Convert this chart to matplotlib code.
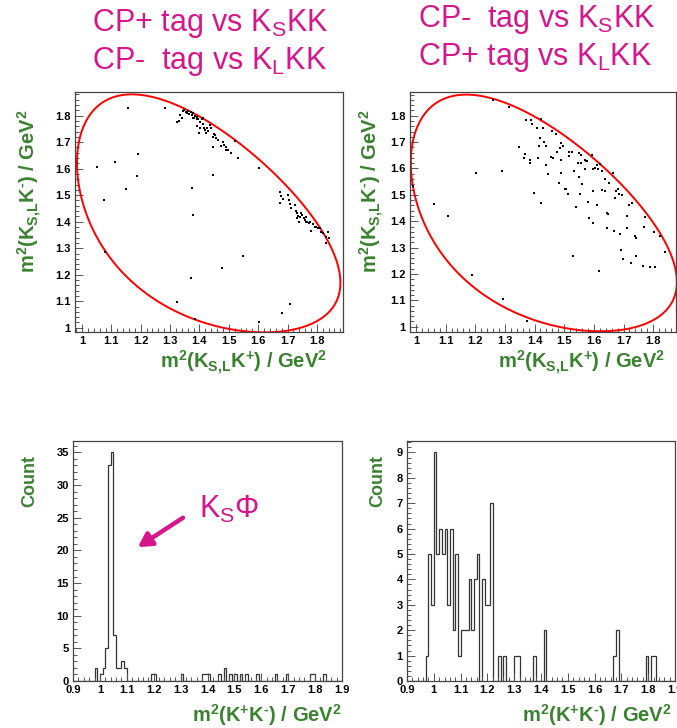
import numpy as np
import matplotlib
matplotlib.use("Agg")
import matplotlib.pyplot as plt
from matplotlib.ticker import MultipleLocator, FormatStrFormatter

plt.rcParams['font.family'] = ['Liberation Sans', 'DejaVu Sans']
plt.rcParams['mathtext.fontset'] = 'custom'
plt.rcParams['mathtext.rm'] = 'Liberation Sans'
plt.rcParams['mathtext.bf'] = 'Liberation Sans:bold'

PINK = '#d6168a'
GREEN = '#3a8230'

# masses (GeV) for the D0 -> KS K+ K- Dalitz boundary
M_D = 1.86484
M_KS = 0.497611
M_K = 0.493677

# CP+ tag vs KS KK / CP- tag vs KL KK : (m2(KS,L K+), m2(KS,L K-))
left_x = [1.158, 1.283, 1.051, 1.111, 1.192, 1.074, 1.150, 1.187, 1.077, 1.373,
          1.379, 1.445, 1.603, 1.532, 1.520, 1.547, 1.478, 1.371, 1.325, 1.385,
          1.604, 1.681, 1.707, 1.781, 1.843, 1.832,
          1.325, 1.332, 1.334, 1.339, 1.345, 1.347, 1.354, 1.359, 1.362, 1.365,
          1.370, 1.373, 1.377, 1.379, 1.382, 1.385, 1.390, 1.393, 1.396, 1.402,
          1.407, 1.411, 1.413, 1.402, 1.390, 1.415, 1.420, 1.424, 1.430, 1.422,
          1.399, 1.436, 1.441, 1.447, 1.449, 1.453, 1.458, 1.464, 1.445, 1.481,
          1.483, 1.475, 1.490, 1.492, 1.498, 1.506,
          1.676, 1.679, 1.673, 1.685, 1.705, 1.707, 1.713, 1.730, 1.732, 1.735,
          1.732, 1.739, 1.747, 1.750, 1.756, 1.758, 1.762, 1.764, 1.767, 1.773,
          1.775, 1.786, 1.792, 1.798, 1.803, 1.809, 1.815, 1.820, 1.832, 1.837,
          1.702, 1.724, 1.741]
left_y = [1.830, 1.830, 1.606, 1.626, 1.657, 1.481, 1.525, 1.571, 1.287, 1.528,
          1.425, 1.576, 1.604, 1.642, 1.706, 1.269, 1.226, 1.189, 1.099, 1.033,
          1.023, 1.057, 1.089, 1.366, 1.340, 1.318,
          1.777, 1.780, 1.803, 1.790, 1.818, 1.820, 1.815, 1.809, 1.818, 1.805,
          1.815, 1.803, 1.809, 1.792, 1.790, 1.800, 1.796, 1.788, 1.786, 1.777,
          1.788, 1.790, 1.767, 1.752, 1.759, 1.752, 1.746, 1.755, 1.742, 1.733,
          1.733, 1.765, 1.752, 1.721, 1.730, 1.727, 1.715, 1.708, 1.683, 1.702,
          1.689, 1.687, 1.671, 1.683, 1.671, 1.658,
          1.511, 1.498, 1.469, 1.486, 1.482, 1.465, 1.450, 1.440, 1.431, 1.423,
          1.413, 1.400, 1.434, 1.425, 1.413, 1.406, 1.398, 1.419, 1.400, 1.394,
          1.398, 1.390, 1.381, 1.381, 1.375, 1.377, 1.362, 1.356, 1.343, 1.362,
          1.501, 1.463, 1.419]

# CP- tag vs KS KK / CP+ tag vs KL KK
right_x = [0.991, 1.061, 1.107, 1.190, 1.204, 1.291, 1.294, 1.373, 1.261, 1.315,
           1.370, 1.388, 1.390, 1.409, 1.421, 1.429, 1.460, 1.472, 1.348, 1.367,
           1.364, 1.384, 1.384, 1.412, 1.416, 1.418, 1.433, 1.438, 1.438, 1.440,
           1.444, 1.399, 1.421, 1.457, 1.463, 1.476, 1.485, 1.490, 1.497, 1.488,
           1.489, 1.483, 1.502, 1.506, 1.513, 1.517, 1.525, 1.515, 1.533, 1.539,
           1.528, 1.547, 1.551, 1.555, 1.558, 1.549, 1.560, 1.553, 1.570, 1.573,
           1.578, 1.569, 1.581, 1.584, 1.594, 1.598, 1.603, 1.598, 1.596, 1.611,
           1.615, 1.620, 1.611, 1.617, 1.626, 1.626, 1.639, 1.637, 1.643, 1.645,
           1.648, 1.652, 1.663, 1.669, 1.670, 1.674, 1.682, 1.685, 1.694, 1.688,
           1.690, 1.697, 1.712, 1.712, 1.718, 1.727, 1.725, 1.738, 1.742, 1.742,
           1.766, 1.770, 1.772, 1.791, 1.806, 1.802, 1.822, 1.839]
right_y = [1.534, 1.466, 1.418, 1.196, 1.583, 1.592, 1.104, 1.023, 1.859, 1.835,
           1.785, 1.784, 1.769, 1.752, 1.787, 1.754, 1.744, 1.731, 1.683, 1.656,
           1.639, 1.634, 1.622, 1.639, 1.687, 1.717, 1.702, 1.685, 1.614, 1.612,
           1.578, 1.508, 1.471, 1.643, 1.639, 1.662, 1.677, 1.697, 1.687, 1.634,
           1.581, 1.545, 1.524, 1.522, 1.504, 1.662, 1.662, 1.647, 1.589, 1.455,
           1.267, 1.619, 1.657, 1.650, 1.622, 1.567, 1.540, 1.503, 1.634, 1.628,
           1.627, 1.597, 1.474, 1.411, 1.650, 1.599, 1.602, 1.392, 1.514, 1.612,
           1.599, 1.616, 1.461, 1.211, 1.592, 1.520, 1.514, 1.562, 1.376, 1.433,
           1.428, 1.545, 1.581, 1.364, 1.489, 1.514, 1.522, 1.505, 1.499, 1.351,
           1.292, 1.255, 1.420, 1.374, 1.461, 1.468, 1.240, 1.345, 1.336, 1.267,
           1.229, 1.380, 1.415, 1.226, 1.226, 1.361, 1.345, 1.283]

# m2(K+K-) histograms, 0.01 GeV2 bins from 0.9 to 1.9 (bin low edge -> count)
left_hist = {0.98: 2, 1.00: 1, 1.01: 2, 1.02: 5, 1.03: 33, 1.04: 35, 1.05: 7,
             1.06: 2, 1.07: 2, 1.08: 3, 1.09: 2, 1.19: 1, 1.20: 1, 1.30: 1,
             1.38: 1, 1.39: 1, 1.40: 1, 1.44: 1, 1.46: 2, 1.48: 1, 1.50: 1,
             1.52: 1, 1.54: 1, 1.58: 1, 1.65: 1, 1.69: 1, 1.78: 1, 1.79: 1,
             1.83: 1}
right_hist = {0.97: 1, 0.98: 5, 0.99: 3, 1.00: 9, 1.01: 5, 1.02: 6, 1.03: 5,
              1.04: 6, 1.05: 3, 1.06: 6, 1.07: 2, 1.08: 5, 1.09: 1, 1.10: 2,
              1.11: 2, 1.12: 2, 1.13: 4, 1.14: 2, 1.15: 4, 1.16: 5, 1.18: 4,
              1.19: 3, 1.20: 3, 1.21: 7, 1.24: 1, 1.26: 1, 1.30: 1, 1.31: 1,
              1.37: 1, 1.41: 2, 1.67: 1, 1.68: 2, 1.79: 1, 1.81: 1, 1.82: 1}

edges = np.round(np.arange(0.9, 1.9001, 0.01), 2)


def to_counts(d):
    c = np.zeros(len(edges) - 1)
    for k, v in d.items():
        c[int(round((k - 0.9) / 0.01))] = v
    return c


def dalitz_boundary(n=400):
    lo = (M_KS + M_K) ** 2
    hi = (M_D - M_K) ** 2
    t = 0.5 * (1 - np.cos(np.linspace(0, np.pi, n)))
    x = lo + (hi - lo) * t
    m12 = np.sqrt(x)
    e2 = (x - M_K ** 2 + M_KS ** 2) / (2 * m12)
    e3 = (M_D ** 2 - x - M_K ** 2) / (2 * m12)
    p2 = np.sqrt(np.clip(e2 ** 2 - M_KS ** 2, 0, None))
    p3 = np.sqrt(np.clip(e3 ** 2 - M_K ** 2, 0, None))
    ymax = (e2 + e3) ** 2 - (p2 - p3) ** 2
    ymin = (e2 + e3) ** 2 - (p2 + p3) ** 2
    return np.concatenate([x, x[::-1]]), np.concatenate([ymax, ymin[::-1]])


W, H = 677, 728
fig = plt.figure(figsize=(W / 100, H / 100), dpi=100)


def box(l, t, r, b):
    return [l / W, 1 - b / H, (r - l) / W, (b - t) / H]


def fx(x, y):
    return x / W, 1 - y / H


def style(ax, major_x, minor_x, major_y, minor_y):
    for s in ax.spines.values():
        s.set_color('#444444')
        s.set_linewidth(0.9)
    ax.xaxis.set_major_locator(MultipleLocator(major_x))
    ax.xaxis.set_minor_locator(MultipleLocator(minor_x))
    ax.yaxis.set_major_locator(MultipleLocator(major_y))
    ax.yaxis.set_minor_locator(MultipleLocator(minor_y))
    ax.xaxis.set_major_formatter(FormatStrFormatter('%g'))
    ax.yaxis.set_major_formatter(FormatStrFormatter('%g'))
    ax.tick_params(which='both', direction='in', top=False, right=False,
                   color='#555555', width=0.7, labelsize=8, pad=3)
    ax.tick_params(which='major', length=5.5)
    ax.tick_params(which='minor', length=2.8)
    for lab in ax.get_xticklabels() + ax.get_yticklabels():
        lab.set_fontweight('bold')


bx, by = dalitz_boundary()

SUP_MINUS = '\u2010'
mass_lab_x = r'm$^\mathregular{2}$(K$_\mathregular{S{,}L}$K$^\mathregular{+}$) / GeV$^\mathregular{2}$'
mass_lab_y = (r'm$^\mathregular{2}$(K$_\mathregular{S{,}L}$K$^\mathregular{' + SUP_MINUS +
              r'}$) / GeV$^\mathregular{2}$')
kk_lab = (r'm$^\mathregular{2}$(K$^\mathregular{+}$K$^\mathregular{' + SUP_MINUS +
          r'}$) / GeV$^\mathregular{2}$')

# scatter panels
panels = [(box(75, 92, 343, 332), left_x, left_y, (0.976, 1.889), (0.984, 1.889), 327, 30),
          (box(410, 92, 676, 332), right_x, right_y, (0.980, 1.877), (0.980, 1.890), 665, 372)]
for rect, xs, ys, xl, yl, xr, ytx in panels:
    ax = fig.add_axes(rect)
    ax.plot(bx, by, color='red', lw=1.4)
    ax.plot(xs, ys, 's', color='black', ms=2.0, mew=0)
    ax.set_xlim(*xl)
    ax.set_ylim(*yl)
    style(ax, 0.1, 0.02, 0.1, 0.02)
    fig.text(*fx(xr, 363), mass_lab_x, color=GREEN, weight='bold', fontsize=14.5,
             ha='right', va='center')
    fig.text(*fx(ytx, 109), mass_lab_y, color=GREEN, weight='bold', fontsize=14.5,
             ha='center', va='top', rotation=90)

# m2(K+K-) histograms
hists = [(box(73, 441, 342, 681), to_counts(left_hist), 36.75, 5, 1, 342, 30),
         (box(407, 441, 675, 681), to_counts(right_hist), 9.45, 1, 0.2, 672, 378)]
hist_axes = []
for rect, counts, ytop, maj, mnr, xr, ytx in hists:
    ax = fig.add_axes(rect)
    ax.stairs(counts, edges, color='#333333', lw=0.9)
    ax.set_xlim(0.9, 1.9)
    ax.set_ylim(0, ytop)
    style(ax, 0.1, 0.02, maj, mnr)
    fig.text(*fx(xr, 715), kk_lab, color=GREEN, weight='bold', fontsize=14.5,
             ha='right', va='center')
    fig.text(*fx(ytx, 455), 'Count', color=GREEN, weight='bold', fontsize=13,
             ha='center', va='top', rotation=90)
    hist_axes.append(ax)

# KS phi peak marker
axl = hist_axes[0]
axl.annotate('', xy=(1.141, 20.5), xytext=(1.309, 25.0),
             arrowprops=dict(arrowstyle='-|>,head_length=0.8,head_width=0.45',
                             color=PINK, lw=3.2, shrinkA=0, shrinkB=0))
axl.text(1.37, 26.3, r'K$_\mathregular{S}$$\Phi$', color=PINK, fontsize=22,
         ha='left', va='center')

# tag titles
titles = [(92, 24, 'CP+ tag vs K$_\\mathregular{S}$KK'),
          (92, 62, 'CP-  tag vs K$_\\mathregular{L}$KK'),
          (418, 20, 'CP-  tag vs K$_\\mathregular{S}$KK'),
          (418, 58, 'CP+ tag vs K$_\\mathregular{L}$KK')]
for x, y, s in titles:
    fig.text(*fx(x, y), s, color=PINK, fontsize=22, ha='left', va='center')

fig.savefig('out.png', dpi=100)
